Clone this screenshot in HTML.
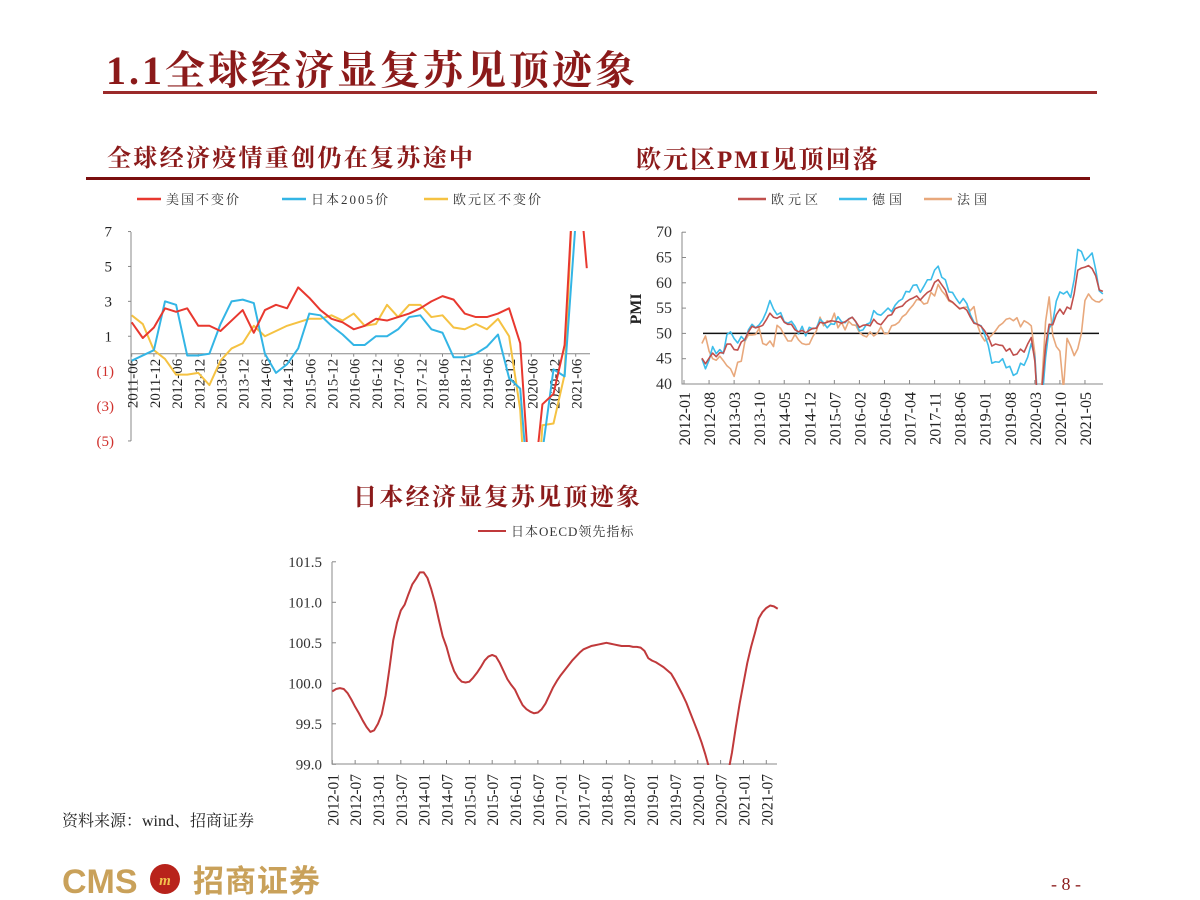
<!DOCTYPE html>
<html><head><meta charset="utf-8">
<style>
html,body{margin:0;padding:0;background:#fff;}
svg{display:block;}
.serif{font-family:"Liberation Serif","Noto Serif CJK SC",serif;}
</style></head>
<body>
<svg id="page" width="1200" height="900" viewBox="0 0 1200 900" xmlns="http://www.w3.org/2000/svg" class="serif">
  <text x="106" y="84" font-size="40" font-weight="bold" letter-spacing="3" fill="#8B1A1A" font-family="Liberation Serif, Noto Serif CJK SC, serif">1.1全球经济显复苏见顶迹象</text>
  <rect x="103" y="91" width="994" height="3" fill="#9B2A2A"/>
  <text x="107" y="166" font-size="24" font-weight="bold" letter-spacing="2.3" fill="#8B1A1A" font-family="Liberation Serif, Noto Serif CJK SC, serif">全球经济疫情重创仍在复苏途中</text>
  <text x="636" y="168" font-size="25" font-weight="bold" letter-spacing="2" fill="#8B1A1A" font-family="Liberation Serif, Noto Serif CJK SC, serif">欧元区PMI见顶回落</text>
  <rect x="86" y="177" width="1004" height="3" fill="#7A0F0F"/>
  <text x="353" y="505" font-size="24" font-weight="bold" letter-spacing="2.3" fill="#8B1A1A" font-family="Liberation Serif, Noto Serif CJK SC, serif">日本经济显复苏见顶迹象</text>
  <text x="62" y="826" font-size="16" fill="#222" font-family="Liberation Serif, Noto Serif CJK SC, serif">资料来源：wind、招商证券</text>
  <g>
    <text x="62" y="893" font-size="34" font-weight="bold" fill="#C9A15A" font-family="Liberation Sans, sans-serif">CMS</text>
    <circle cx="165" cy="879" r="15" fill="#B8231B"/>
    <text x="165" y="885" font-size="15" font-weight="bold" fill="#F2C14E" text-anchor="middle" font-family="Liberation Serif, serif" font-style="italic">m</text>
    <text x="193" y="892" font-size="31" font-weight="bold" letter-spacing="1" fill="#C9A15A" font-family="Liberation Sans, Noto Sans CJK SC, sans-serif">招商证券</text>
  </g>
  <text x="1066" y="890" font-size="18" fill="#8B1A1A" text-anchor="middle">- 8 -</text>
  <g id="left"></g>
  <g id="right"></g>
  <g id="bottom"></g>
  <defs>
    <clipPath id="clipL"><rect x="131" y="231" width="462" height="211"/></clipPath>
    <clipPath id="clipR"><rect x="682" y="231" width="423" height="154"/></clipPath>
    <clipPath id="clipB"><rect x="332" y="555" width="450" height="210"/></clipPath>
  </defs>
</svg>
<script>
// ===== Left chart data (quarterly, 2011Q2..2021Q3) =====
var gdpTickLabels = ["2011-06","2011-12","2012-06","2012-12","2013-06","2013-12","2014-06","2014-12","2015-06","2015-12","2016-06","2016-12","2017-06","2017-12","2018-06","2018-12","2019-06","2019-12","2020-06","2020-12","2021-06"];
var gdpYTicks = [7,5,3,1,-1,-3,-5];
var usGdp = [1.8,0.9,1.5,2.6,2.4,2.6,1.6,1.6,1.3,1.9,2.5,1.2,2.5,2.8,2.6,3.8,3.2,2.5,2.0,1.8,1.4,1.6,2.0,1.9,2.1,2.3,2.6,3.0,3.3,3.1,2.3,2.1,2.1,2.3,2.6,0.6,-9.0,-2.9,-2.3,0.5,12.2,4.9];
var jpGdp = [-0.4,-0.1,0.2,3.0,2.8,-0.1,-0.1,0.0,1.7,3.0,3.1,2.9,0.0,-1.1,-0.6,0.3,2.3,2.2,1.6,1.1,0.5,0.5,1.0,1.0,1.4,2.1,2.2,1.4,1.2,-0.2,-0.2,0.0,0.4,1.1,-1.4,-2.0,-10.0,-5.6,-0.9,-1.3,7.6,null];
var euGdp = [2.2,1.7,0.2,-0.3,-1.2,-1.2,-1.1,-1.8,-0.4,0.3,0.6,1.6,1.0,1.3,1.6,1.8,2.0,2.0,2.2,1.9,2.3,1.6,1.7,2.8,2.1,2.8,2.8,2.1,2.2,1.5,1.4,1.7,1.4,2.0,1.0,-3.2,-14.0,-4.1,-4.0,-1.2,13.0,null];

// ===== Right chart data (monthly PMI, 2012-06..2021-10) =====
var pmiStartMonth = 5;
var pmiTickLabels = ["2012-01","2012-08","2013-03","2013-10","2014-05","2014-12","2015-07","2016-02","2016-09","2017-04","2017-11","2018-06","2019-01","2019-08","2020-03","2020-10","2021-05"];
var pmiYTicks = [70,65,60,55,50,45,40];
var pmiEuro = [45.1,44.0,45.1,46.1,45.4,46.2,46.1,47.9,47.9,46.8,46.7,48.3,48.8,50.3,51.4,51.1,51.3,51.6,52.7,54.0,53.2,53.0,53.4,52.2,51.8,51.8,50.7,50.3,50.6,50.1,50.6,51.0,51.0,52.2,52.0,52.2,52.5,52.4,52.3,52.0,52.3,52.8,53.2,52.3,51.2,51.6,51.7,51.5,52.8,52.0,51.7,52.6,53.5,53.7,54.9,55.2,55.4,56.2,56.7,57.0,57.4,56.6,57.4,58.1,58.5,60.1,60.6,59.6,58.6,56.6,56.2,55.5,54.9,55.1,54.6,53.2,52.0,51.8,51.4,50.5,49.3,47.5,47.9,47.7,47.6,46.5,47.0,45.7,45.9,46.9,46.3,47.9,49.2,44.5,33.4,39.4,47.4,51.8,51.7,53.7,54.8,53.8,55.2,54.8,57.9,62.5,62.9,63.1,63.4,62.8,61.4,58.6,58.3];
var pmiGermany = [45.0,43.0,44.7,47.4,46.0,46.8,46.0,49.8,50.3,49.0,48.1,49.4,48.6,50.7,51.8,51.1,51.7,52.7,54.3,56.5,54.8,53.7,54.1,52.3,52.0,52.4,51.4,49.9,51.4,49.5,51.2,50.9,51.1,52.8,52.1,51.1,51.9,51.8,53.3,52.3,52.1,52.9,53.2,52.3,50.5,50.7,51.8,52.1,54.5,53.8,53.6,54.3,55.0,54.3,55.6,56.4,56.8,58.3,58.2,59.5,59.6,58.1,59.3,60.6,60.6,62.5,63.3,61.1,60.6,58.2,58.1,56.9,55.9,56.9,55.9,53.7,52.2,51.8,51.5,49.7,47.6,44.1,44.4,44.3,45.0,43.2,43.5,41.7,42.1,44.1,43.7,45.3,48.0,45.4,34.5,36.6,45.2,51.0,52.2,56.4,58.2,57.8,58.3,57.1,60.7,66.6,66.2,64.4,65.1,65.9,62.6,58.4,57.8];
var pmiFrance = [48.0,49.5,46.5,45.0,44.7,45.5,44.6,43.6,43.0,41.5,44.3,44.5,48.4,49.7,49.7,49.8,51.0,48.0,47.7,48.5,47.4,51.6,51.0,49.7,48.5,48.5,49.8,48.7,48.0,47.8,47.9,49.4,50.5,53.2,51.5,52.5,52.2,54.0,51.1,52.2,50.7,52.4,51.7,51.6,50.2,49.6,49.3,50.3,49.5,50.0,51.3,49.9,50.0,51.5,51.7,52.2,53.3,53.8,54.8,55.6,56.7,56.6,55.8,56.0,58.1,57.4,59.7,58.4,57.6,56.4,56.1,55.5,54.8,55.1,55.2,54.5,55.3,51.6,49.6,48.5,49.0,49.7,50.5,51.5,52.0,52.8,53.0,52.5,53.1,51.3,52.5,52.1,51.5,46.0,31.0,40.6,52.3,57.2,49.6,47.4,46.5,39.0,49.0,47.5,45.6,47.0,50.0,56.5,57.8,56.8,56.3,56.2,56.8];

// ===== Bottom chart data (monthly, 2012-01..2021-10) =====
var cliTickLabels = ["2012-01","2012-07","2013-01","2013-07","2014-01","2014-07","2015-01","2015-07","2016-01","2016-07","2017-01","2017-07","2018-01","2018-07","2019-01","2019-07","2020-01","2020-07","2021-01","2021-07"];
var cliYTicks = [101.5,101.0,100.5,100.0,99.5,99.0];
var japanCli = [99.90,99.93,99.94,99.93,99.88,99.80,99.71,99.63,99.54,99.46,99.40,99.42,99.50,99.62,99.85,100.18,100.53,100.75,100.90,100.97,101.10,101.22,101.29,101.37,101.37,101.30,101.16,100.99,100.78,100.58,100.45,100.28,100.15,100.07,100.02,100.01,100.02,100.07,100.13,100.20,100.28,100.33,100.35,100.33,100.25,100.15,100.05,99.98,99.92,99.82,99.73,99.68,99.65,99.63,99.64,99.68,99.75,99.85,99.95,100.03,100.10,100.16,100.22,100.28,100.33,100.38,100.42,100.44,100.46,100.47,100.48,100.49,100.50,100.49,100.48,100.47,100.46,100.46,100.46,100.45,100.45,100.44,100.40,100.31,100.28,100.26,100.23,100.20,100.16,100.12,100.04,99.95,99.86,99.76,99.64,99.52,99.40,99.27,99.12,98.95,98.70,98.45,98.40,98.55,98.90,99.15,99.46,99.75,100.00,100.25,100.45,100.62,100.80,100.88,100.93,100.96,100.95,100.92];

var NS = "http://www.w3.org/2000/svg";
function mk(parent, tag, attrs){ var e=document.createElementNS(NS,tag); for(var k in attrs){e.setAttribute(k,attrs[k]);} parent.appendChild(e); return e; }
function pathFrom(vals, xf, yf){ var d="", pen=false; for(var i=0;i<vals.length;i++){ if(vals[i]===null){pen=false;continue;} d+=(pen?"L":"M")+xf(i).toFixed(2)+","+yf(vals[i]).toFixed(2); pen=true;} return d; }

// ---------- LEFT ----------
(function(){
  var g=document.getElementById('left');
  
  
  var x=function(i){return 131.7+i*11.1;};
  var y=function(v){return 353.7-v*17.45;};
  var leg=[["美国不变价","#E8382F",137],["日本2005价","#33B5E5",282],["欧元区不变价","#F5C242",424]];
  leg.forEach(function(l,k){
    var ln=mk(g,'line',{x1:l[2],y1:199,x2:l[2]+24,y2:199,stroke:l[1],'stroke-width':2.5});
    
    
    var t=mk(g,'text',{x:l[2]+29,y:204,'font-size':13,'letter-spacing':2,fill:'#333'}); t.textContent=l[0];
    
    
  });
  var ax=mk(g,'line',{x1:131,y1:232,x2:131,y2:441,stroke:'#888','stroke-width':1});
  
  
  gdpYTicks.forEach(function(v){
    var t=mk(g,'text',{x:v<0?114:112,y:y(v)+5,'font-size':15,'text-anchor':'end',fill:v<0?'#D0312D':'#222'});
    t.textContent=v<0?'('+(-v)+')':String(v);
    
    
    var tk=mk(g,'line',{x1:128,y1:y(v),x2:131,y2:y(v),stroke:'#888'});
    
    
  });
  var z=mk(g,'line',{x1:131,y1:y(0),x2:590,y2:y(0),stroke:'#888','stroke-width':1});
  
  
  gdpTickLabels.forEach(function(lab,k){
    var xx=x(k*2);
    var t=mk(g,'text',{x:0,y:0,'font-size':15,'text-anchor':'end',fill:'#222',transform:'translate('+(xx+6)+','+(y(0)+5)+') rotate(-90)'});
    t.textContent=lab;
    
    
    var tk=mk(g,'line',{x1:xx,y1:y(0),x2:xx,y2:y(0)+3,stroke:'#888'});
    
    
  });
  var cg=mk(g,'g',{'clip-path':'url(#clipL)'});
  
  
  [[euGdp,'#F5C242','line-eurozone-gdp'],[jpGdp,'#33B5E5','line-japan-gdp'],[usGdp,'#E8382F','line-us-gdp']].forEach(function(s){
    var p=mk(cg,'path',{d:pathFrom(s[0],x,y),fill:'none',stroke:s[1],'stroke-width':2,'stroke-linejoin':'round'});
    
    
  });
})();

// ---------- RIGHT ----------
(function(){
  var g=document.getElementById('right');
  
  
  var xm=function(m){return 684+m*3.58;};
  var y=function(v){return 384-(v-40)*5.06;};
  var leg=[["欧元区","#C0504D",738],["德国","#3DBDEA",839],["法国","#E8A87C",924]];
  leg.forEach(function(l,k){
    var ln=mk(g,'line',{x1:l[2],y1:199,x2:l[2]+28,y2:199,stroke:l[1],'stroke-width':2.5});
    
    
    var t=mk(g,'text',{x:l[2]+33,y:204,'font-size':13,'letter-spacing':4,fill:'#333'}); t.textContent=l[0];
    
    
  });
  var yt=mk(g,'text',{x:0,y:0,'font-size':16,'font-weight':'bold','text-anchor':'middle',fill:'#222',transform:'translate(641,309) rotate(-90)'});
  yt.textContent='PMI';
  
  
  var ax=mk(g,'path',{d:'M682,232L682,384L1103,384',fill:'none',stroke:'#888'});
  
  
  pmiYTicks.forEach(function(v){
    var t=mk(g,'text',{x:672,y:y(v)+5,'font-size':16,'text-anchor':'end',fill:'#333'}); t.textContent=String(v);
    
    
    var tk=mk(g,'line',{x1:682,y1:y(v),x2:686,y2:y(v),stroke:'#888'});
    
    
  });
  pmiTickLabels.forEach(function(lab,k){
    var xx=xm(k*7);
    var t=mk(g,'text',{x:0,y:0,'font-size':16,'text-anchor':'end',fill:'#222',transform:'translate('+(xx+6)+',392) rotate(-90)'});
    t.textContent=lab;
    
    
    var tk=mk(g,'line',{x1:xx,y1:384,x2:xx,y2:380,stroke:'#888'});
    
    
  });
  var ref=mk(g,'line',{x1:703,y1:y(50),x2:1099,y2:y(50),stroke:'#111','stroke-width':1.5});
  
  
  var cg=mk(g,'g',{'clip-path':'url(#clipR)'});
  
  
  var x=function(i){return xm(pmiStartMonth+i);};
  [[pmiFrance,'#E8A87C','line-france-pmi'],[pmiGermany,'#3DBDEA','line-germany-pmi'],[pmiEuro,'#C0504D','line-eurozone-pmi']].forEach(function(s){
    var p=mk(cg,'path',{d:pathFrom(s[0],x,y),fill:'none',stroke:s[1],'stroke-width':1.6,'stroke-linejoin':'round'});
    
    
  });
})();

// ---------- BOTTOM ----------
(function(){
  var g=document.getElementById('bottom');
  
  
  var x=function(m){return 332.3+m*3.807;};
  var y=function(v){return 764.3-(v-99)*81;};
  var ln=mk(g,'line',{x1:478,y1:531,x2:506,y2:531,stroke:'#C0393B','stroke-width':2});
  
  
  var lt=mk(g,'text',{x:511,y:536,'font-size':13,'letter-spacing':1,fill:'#333'}); lt.textContent='日本OECD领先指标';
  
  
  var ax=mk(g,'path',{d:'M332,562L332,764L777,764',fill:'none',stroke:'#888'});
  
  
  cliYTicks.forEach(function(v){
    var t=mk(g,'text',{x:322,y:y(v)+5,'font-size':15,'text-anchor':'end',fill:'#333'}); t.textContent=v.toFixed(1);
    
    
    var tk=mk(g,'line',{x1:332,y1:y(v),x2:336,y2:y(v),stroke:'#888'});
    
    
  });
  cliTickLabels.forEach(function(lab,k){
    var xx=x(k*6);
    var t=mk(g,'text',{x:0,y:0,'font-size':15.5,'text-anchor':'end',fill:'#222',transform:'translate('+(xx+6)+',774) rotate(-90)'});
    t.textContent=lab;
    
    
    var tk=mk(g,'line',{x1:xx,y1:764,x2:xx,y2:760,stroke:'#888'});
    
    
  });
  var cg=mk(g,'g',{'clip-path':'url(#clipB)'});
  
  
  var p=mk(cg,'path',{d:pathFrom(japanCli,x,y),fill:'none',stroke:'#C0393B','stroke-width':2,'stroke-linejoin':'round'});
  
  
})();
</script>
</body></html>
